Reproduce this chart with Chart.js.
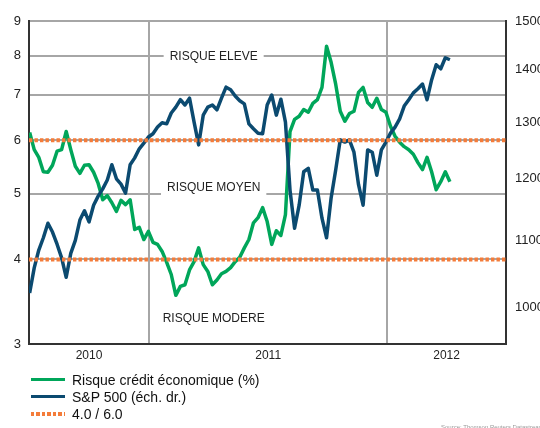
<!DOCTYPE html>
<html>
<head>
<meta charset="utf-8">
<script src="https://cdn.jsdelivr.net/npm/chart.js@4.4.1/dist/chart.umd.min.js"></script>
<style>
  body { margin: 0; background: #fff; font-family: 'Liberation Sans', Arial, sans-serif; }
  .wrap { position: relative; width: 540px; height: 428px; overflow: hidden; }
  #chart { position: absolute; left: 0; top: 0; }
  .legend { position: absolute; left: 31px; top: 371px; font-size: 14px; color: #111; }
  .legend div { display: flex; align-items: center; height: 17px; white-space: nowrap; }
  .swatch { width: 34px; height: 3px; margin-right: 7px; flex: none; }
  .source { position: absolute; left: 441px; top: 424px; font-size: 6px; color: #999; white-space: nowrap; }
</style>
</head>
<body>
<div class="wrap">
  <canvas id="chart" width="540" height="428"></canvas>
  <div class="legend">
    <div><span class="swatch" style="background:#00a65a"></span>Risque crédit économique (%)</div>
    <div><span class="swatch" style="background:#0b4a70"></span>S&amp;P 500 (éch. dr.)</div>
    <div><span class="swatch" style="height:4px;background:repeating-linear-gradient(90deg,#f47c3a 0 3.5px,transparent 3.5px 5.5px)"></span>4.0 / 6.0</div>
  </div>
  <div class="source">Source: Thomson Reuters Datastream</div>
</div>

<script>
  // weekly closes, first week 2010-07-02
  const firstWeek = '2010-07-02';
  const axisStart = '2010-07-01';
  const axisEnd = '2012-07-01';
  const yearStarts = ['2011-01-01', '2012-01-01'];
  const yearLabels = ['2010', '2011', '2012'];
  const leftTicks = [3, 4, 5, 6, 7, 8, 9];
  const rightTicks = [1000, 1100, 1200, 1300, 1400, 1500];
  const thresholds = [4, 6];

  const creditRisk = [
    6.16, 5.81, 5.66, 5.39, 5.38, 5.51, 5.78, 5.81, 6.18, 5.81,
    5.49, 5.36, 5.51, 5.52, 5.38, 5.18, 4.90, 4.97, 4.85, 4.71,
    4.89, 4.82, 4.90, 4.43, 4.46, 4.28, 4.40, 4.24, 4.21, 4.11,
    3.96, 3.80, 3.54, 3.65, 3.67, 3.86, 3.97, 4.16, 3.93, 3.84,
    3.67, 3.73, 3.81, 3.84, 3.89, 3.97, 4.03, 4.16, 4.28, 4.53,
    4.61, 4.77, 4.55, 4.21, 4.41, 4.34, 4.66, 6.18, 6.44, 6.51,
    6.66, 6.60, 6.80, 6.89, 7.18, 8.26, 7.82, 7.26, 6.62, 6.40,
    6.57, 6.62, 7.06, 7.18, 6.82, 6.71, 6.92, 6.66, 6.60, 6.29,
    6.08, 5.96, 5.87, 5.81, 5.72, 5.56, 5.43, 5.66, 5.39, 5.07,
    5.21, 5.39, 5.21
  ];

  const sp500 = [
    1021, 1058, 1085, 1104, 1127, 1113, 1094, 1073, 1044, 1080,
    1100, 1132, 1147, 1129, 1156, 1171, 1183, 1198, 1224, 1200,
    1191, 1176, 1224, 1236, 1252, 1262, 1273, 1279, 1291, 1299,
    1297, 1317, 1328, 1342, 1332, 1345, 1300, 1259, 1313, 1328,
    1332, 1323, 1345, 1366, 1361, 1349, 1340, 1334, 1297, 1288,
    1280, 1279, 1332, 1351, 1313, 1343, 1300, 1181, 1119, 1156,
    1212, 1218, 1181, 1181, 1135, 1104, 1168, 1215, 1268, 1264,
    1268, 1246, 1190, 1156, 1250, 1246, 1206, 1250, 1264, 1280,
    1291, 1306, 1330, 1342, 1355, 1363, 1372, 1342, 1380, 1410,
    1402, 1424, 1420
  ];

  const zoneNames = ['RISQUE ELEVE', 'RISQUE MOYEN', 'RISQUE MODERE'];
  const zoneLevels = [7.98, 5.11, 3.27];

  const GREEN = '#00a65a', BLUE = '#0b4a70', ORANGE = '#f47c3a', GRID = '#a6a6a6';

  const dayOf = s => (Date.parse(s) - Date.parse(axisStart)) / 864e5;
  const weeks = creditRisk.map((_, i) => dayOf(firstWeek) + 7 * i);
  const endDay = dayOf(axisEnd);
  const gridDays = yearStarts.map(dayOf);
  const bounds = [0, ...gridDays, endDay];
  const labelDays = yearLabels.map((_, i) => (bounds[i] + bounds[i + 1]) / 2);
  const zoneDay = 283;

  const zonePlugin = {
    id: 'zones',
    beforeDatasetsDraw(chart) {
      const { ctx, scales: { x, y } } = chart;
      ctx.save();
      ctx.font = '12px "Liberation Sans", Arial, sans-serif';
      ctx.textAlign = 'center';
      ctx.textBaseline = 'middle';
      zoneNames.forEach((name, i) => {
        const px = x.getPixelForValue(zoneDay);
        const py = y.getPixelForValue(zoneLevels[i]);
        const w = ctx.measureText(name).width;
        ctx.fillStyle = '#fff';
        ctx.fillRect(px - w / 2 - 6, py - 8, w + 12, 16);
        ctx.fillStyle = '#222';
        ctx.fillText(name, px, py);
      });
      ctx.restore();
    }
  };

  Chart.defaults.font.family = '"Liberation Sans", Arial, sans-serif';

  new Chart(document.getElementById('chart'), {
    type: 'line',
    data: {
      datasets: [
        ...thresholds.map(t => ({
          label: '4.0 / 6.0',
          data: [{ x: 0, y: t }, { x: endDay, y: t }],
          yAxisID: 'y', borderColor: ORANGE, borderWidth: 4, borderDash: [3.4, 2.1],
          borderCapStyle: 'butt', pointRadius: 0, order: 0
        })),
        {
          label: 'S&P 500 (éch. dr.)',
          data: weeks.map((d, i) => ({ x: d, y: sp500[i] })),
          yAxisID: 'y1', borderColor: BLUE, borderWidth: 3.5, borderJoinStyle: 'round',
          pointRadius: 0, order: 1
        },
        {
          label: 'Risque crédit économique (%)',
          data: weeks.map((d, i) => ({ x: d, y: creditRisk[i] })),
          yAxisID: 'y', borderColor: GREEN, borderWidth: 3.5, borderJoinStyle: 'round',
          pointRadius: 0, order: 2
        }
      ]
    },
    options: {
      responsive: false, animation: false,
      layout: { padding: { top: 21, bottom: 62, left: 0, right: 0 } },
      plugins: { legend: { display: false }, tooltip: { enabled: false } },
      scales: {
        x: {
          type: 'linear', min: 0, max: endDay,
          afterBuildTicks: s => { s.ticks = [0, ...gridDays, ...labelDays, endDay].sort((a, b) => a - b).map(v => ({ value: v })); },
          afterFit: s => { s.height = 22; },
          ticks: {
            autoSkip: false, maxRotation: 0, padding: 4, color: '#222', font: { size: 12 },
            callback: v => { const i = labelDays.indexOf(v); return i >= 0 ? yearLabels[i] : ''; }
          },
          grid: { drawTicks: false, lineWidth: 2, color: c => gridDays.includes(c.tick && c.tick.value) ? GRID : 'transparent' },
          border: { color: '#333', width: 2 }
        },
        y: {
          type: 'logarithmic', position: 'left', min: 3, max: 9,
          afterBuildTicks: s => { s.ticks = leftTicks.map(v => ({ value: v })); },
          afterFit: s => { s.width = 29; },
          ticks: { autoSkip: false, padding: 8, color: '#222', font: { size: 13 }, callback: v => String(v) },
          grid: { drawTicks: false, lineWidth: 2, color: c => (c.tick && c.tick.value === 3) ? 'transparent' : GRID },
          border: { color: '#333', width: 2 }
        },
        y1: {
          type: 'logarithmic', position: 'right', min: 950, max: 1500,
          afterBuildTicks: s => { s.ticks = rightTicks.map(v => ({ value: v })); },
          afterFit: s => { s.width = 34; },
          ticks: { autoSkip: false, padding: 9, color: '#222', font: { size: 13 }, callback: v => String(v) },
          grid: { display: false, drawTicks: false },
          border: { color: '#333', width: 2 }
        }
      }
    },
    plugins: [zonePlugin]
  });
</script>
</body>
</html>
